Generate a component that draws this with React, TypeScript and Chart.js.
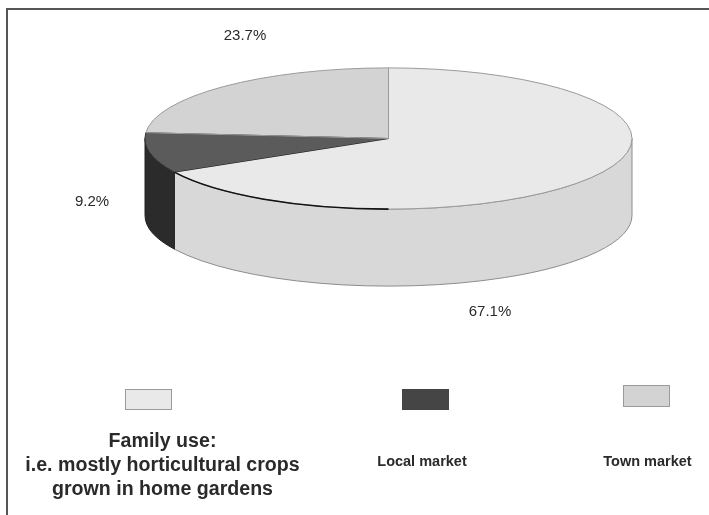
import React, { useEffect, useRef } from "react";
import { Chart, registerables } from "chart.js";

Chart.register(...registerables);

const categories = ["Family use", "Local market", "Town market"];
const shares = [67.1, 9.2, 23.7];
const topColors = ["#e9e9e9", "#5b5b5b", "#d3d3d3"];
const wallColors = ["#d8d8d8", "#2b2b2b", "#bdbdbd"];
const swatchColors = ["#e9e9e9", "#454545", "#d3d3d3"];
const familyCaption = ["Family use:", "i.e. mostly horticultural crops", "grown in home gardens"];

const WIDTH = 709;
const HEIGHT = 515;
const TILT = 0.29;
const TOP_Y = 138.5;
const DEPTH = 77;

const tiltMatrix = (cy: number) => new DOMMatrix([1, 0, 0, TILT, 0, TOP_Y - TILT * cy]);

// Squashes the flat pie into a tilted disc and builds the side wall under it.
const discPlugin = {
  id: "disc",
  beforeDatasetsDraw(chart: any) {
    const { ctx } = chart;
    const arcs = chart.getDatasetMeta(0).data;
    ctx.save();
    arcs.forEach((arc: any, i: number) => {
      const from = Math.max(arc.startAngle, 0);
      const to = Math.min(arc.endAngle, Math.PI);
      if (to <= from) return;
      const rx = arc.outerRadius;
      const ry = rx * TILT;
      ctx.beginPath();
      ctx.ellipse(arc.x, TOP_Y, rx, ry, 0, from, to);
      ctx.ellipse(arc.x, TOP_Y + DEPTH, rx, ry, 0, to, from, true);
      ctx.closePath();
      ctx.fillStyle = wallColors[i];
      ctx.fill();
      ctx.strokeStyle = i === 1 ? "#222222" : "#8c8c8c";
      ctx.lineWidth = 1;
      ctx.stroke();
    });
    ctx.restore();
    const cy = arcs[0].y;
    ctx.save();
    ctx.setTransform(ctx.getTransform().multiply(tiltMatrix(cy)));
  },
  afterDatasetsDraw(chart: any) {
    const { ctx } = chart;
    ctx.restore();
    const arcs = chart.getDatasetMeta(0).data;
    ctx.save();
    // Slice outlines, stroked without the squash so the line stays even.
    arcs.forEach((arc: any, i: number) => {
      const rx = arc.outerRadius;
      const ry = rx * TILT;
      ctx.beginPath();
      ctx.moveTo(arc.x, TOP_Y);
      ctx.ellipse(arc.x, TOP_Y, rx, ry, 0, arc.startAngle, arc.endAngle);
      ctx.closePath();
      ctx.strokeStyle = i === 1 ? "#333333" : "#9a9a9a";
      ctx.lineWidth = 1;
      ctx.stroke();
    });
    // The dark rim along the near left edge of the largest slice.
    const big = arcs[0];
    ctx.beginPath();
    ctx.ellipse(big.x, TOP_Y, big.outerRadius, big.outerRadius * TILT, 0, Math.PI / 2, big.endAngle);
    ctx.strokeStyle = "#111111";
    ctx.lineWidth = 1.6;
    ctx.stroke();
    ctx.restore();
  },
  afterDraw(chart: any) {
    const { ctx } = chart;
    ctx.save();
    // Frame: only the top and left rules are present.
    ctx.strokeStyle = "#555555";
    ctx.lineWidth = 2;
    ctx.beginPath();
    ctx.moveTo(7, HEIGHT);
    ctx.lineTo(7, 9);
    ctx.lineTo(WIDTH, 9);
    ctx.stroke();

    ctx.fillStyle = "#2a2a2a";
    ctx.textAlign = "center";
    ctx.textBaseline = "middle";
    ctx.font = "15px 'Liberation Sans'";
    ctx.fillText(`${shares[2]}%`, 245, 36);
    ctx.fillText(`${shares[1]}%`, 92, 202);
    ctx.fillText(`${shares[0]}%`, 490, 312);

    const swatches: [number, number, number, number][] = [
      [125.5, 389.5, 20, 0],
      [402.5, 389.5, 20, 1],
      [623.5, 385.5, 21, 2],
    ];
    swatches.forEach(([x, y, h, i]) => {
      ctx.fillStyle = swatchColors[i];
      ctx.fillRect(x, y, 46, h);
      ctx.strokeStyle = i === 1 ? "#444444" : "#9a9a9a";
      ctx.lineWidth = 1;
      ctx.strokeRect(x, y, 46, h);
    });

    ctx.fillStyle = "#2a2a2a";
    ctx.font = "bold 19.6px 'Liberation Sans'";
    familyCaption.forEach((line, i) => ctx.fillText(line, 162.5, 442 + i * 24));
    ctx.font = "bold 14.5px 'Liberation Sans'";
    ctx.fillText(categories[1], 422, 462);
    ctx.fillText(categories[2], 647.5, 462);
    ctx.restore();
  },
};

export default function App() {
  const ref = useRef<HTMLCanvasElement>(null);
  useEffect(() => {
    const chart = new Chart(ref.current!, {
      type: "pie",
      data: {
        labels: categories,
        datasets: [
          {
            data: shares,
            backgroundColor: topColors,
            borderWidth: 0,
          },
        ],
      },
      options: {
        responsive: false,
        animation: false,
        radius: 243.5,
        layout: { padding: { left: 68 } },
        plugins: { legend: { display: false }, tooltip: { enabled: false } },
      },
      plugins: [discPlugin],
    } as any);
    return () => chart.destroy();
  }, []);
  return (
    <canvas
      ref={ref}
      width={WIDTH}
      height={HEIGHT}
      style={{ position: "absolute", left: 0, top: 0, width: WIDTH, height: HEIGHT, background: "#ffffff" }}
    />
  );
}
